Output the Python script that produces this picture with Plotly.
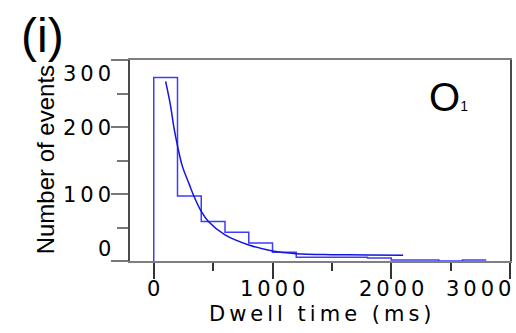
import plotly.graph_objects as go

# ---- data ----
bin_edges = [0, 200, 400, 600, 800, 1000, 1200, 1400, 1600, 1800, 2000, 2200, 2400, 2600, 2800]
counts = [274, 97, 59, 43, 27, 13, 5.5, 5.5, 5.5, 4.5, 1.5, 1.5, 0, 1.5]

fit_t = [100, 140, 170, 200, 240, 300, 340, 400, 460, 600, 800, 1000, 1200, 1500, 1800, 2100]
fit_y = [268, 233, 199, 172, 142, 114, 96, 74, 59, 39, 24, 15, 11, 9.5, 9, 8.5]

x_tickvals = [0, 1000, 2000, 3000]
x_ticktext = ["0", "1000", "2000", "3000"]
x_minorvals = [500, 1500, 2500]
y_tickvals = [0, 100, 200, 300]
y_ticktext = ["0", "100", "200", "300"]
y_minorvals = [50, 150, 250]

x_title = "Dwell time (ms)"
y_title = "Number of events"
panel_label = "(i)"
state_label = "O"
state_sub = "1"

# ---- styling ----
HIST_COLOR = "#3c3cff"
FIT_COLOR = "#1414e0"
LABEL_FONT = dict(family="DejaVu Sans", size=21, color="black")
LS = "letter-spacing:4px"

def spaced(t):
    return f'<span style="{LS}">{t}</span>'

# step outline of the histogram built from the bins
step_x = [bin_edges[0]] + bin_edges[:-1] + [bin_edges[-1]]
step_y = [0] + counts + [counts[-1]]

fig = go.Figure()
fig.add_trace(go.Scatter(x=step_x, y=step_y, mode="lines",
                         line=dict(color=HIST_COLOR, width=1.5, shape="hv"),
                         showlegend=False, hoverinfo="skip"))
fig.add_trace(go.Scatter(x=fit_t, y=fit_y, mode="lines",
                         line=dict(color=FIT_COLOR, width=1.5, shape="spline", smoothing=1),
                         showlegend=False, hoverinfo="skip"))

ann_base = dict(showarrow=False, borderpad=0, borderwidth=0)
annotations = []
# x tick labels
for i, (v, t) in enumerate(zip(x_tickvals, x_ticktext)):
    last = i == len(x_tickvals) - 1
    annotations.append(dict(ann_base, x=v, xref="x", y=-0.1378, yref="paper", text=spaced(t),
                            font=LABEL_FONT,
                            xanchor="right" if last else "center", yanchor="middle",
                            xshift=5 if last else 2))
# y tick labels
for i, (v, t) in enumerate(zip(y_tickvals, y_ticktext)):
    if i == 0:
        ya, ys = "bottom", 0
    elif i == len(y_tickvals) - 1:
        ya, ys = "top", -2
    else:
        ya, ys = "middle", -1
    annotations.append(dict(ann_base, x=0, xref="paper", y=v, yref="y", text=spaced(t),
                            font=LABEL_FONT,
                            xanchor="right", yanchor=ya, xshift=-15, yshift=ys))
# axis titles
annotations.append(dict(ann_base, x=0.502, xref="paper", y=-0.262, yref="paper",
                        text=spaced(x_title), font=LABEL_FONT,
                        xanchor="center", yanchor="middle", xshift=2))
annotations.append(dict(ann_base, x=-0.223, xref="paper", y=0.502, yref="paper",
                        text=y_title, textangle=-90,
                        font=dict(family="Liberation Sans", size=24, color="black"),
                        xanchor="center", yanchor="middle"))
# panel label and state label
annotations.append(dict(ann_base, x=-0.288, xref="paper", y=1.12, yref="paper",
                        text=panel_label,
                        font=dict(family="Liberation Sans", size=48, color="black"),
                        xanchor="left", yanchor="middle"))
annotations.append(dict(ann_base, x=0.787, xref="paper", y=0.815, yref="paper",
                        text=f'{state_label}<span style="font-size:14px">{state_sub}</span>',
                        font=dict(family="Liberation Sans", size=40, color="black"),
                        xanchor="left", yanchor="middle"))

fig.update_layout(
    width=516, height=333,
    margin=dict(l=130, r=4, t=60, b=72),
    paper_bgcolor="white", plot_bgcolor="white",
    annotations=annotations,
    xaxis=dict(range=[-200, 3000], showgrid=False, zeroline=False,
               showline=True, linecolor="#7f7f7f", linewidth=2, mirror=True,
               tickmode="array", tickvals=x_tickvals, showticklabels=False,
               ticks="outside", ticklen=16, tickwidth=2, tickcolor="#333333",
               minor=dict(tickmode="array", tickvals=x_minorvals, ticks="outside",
                          ticklen=8, tickwidth=2, tickcolor="#333333")),
    yaxis=dict(range=[0, 300], showgrid=False, zeroline=False,
               showline=True, linecolor="#4a4a4a", linewidth=2, mirror=True,
               tickmode="array", tickvals=y_tickvals, showticklabels=False,
               ticks="outside", ticklen=17, tickwidth=2, tickcolor="#777777",
               minor=dict(tickmode="array", tickvals=y_minorvals, ticks="outside",
                          ticklen=11, tickwidth=2, tickcolor="#777777")),
)

fig.write_html("out.html", config={"displayModeBar": False},
               post_script="document.body.style.margin='0px';")
